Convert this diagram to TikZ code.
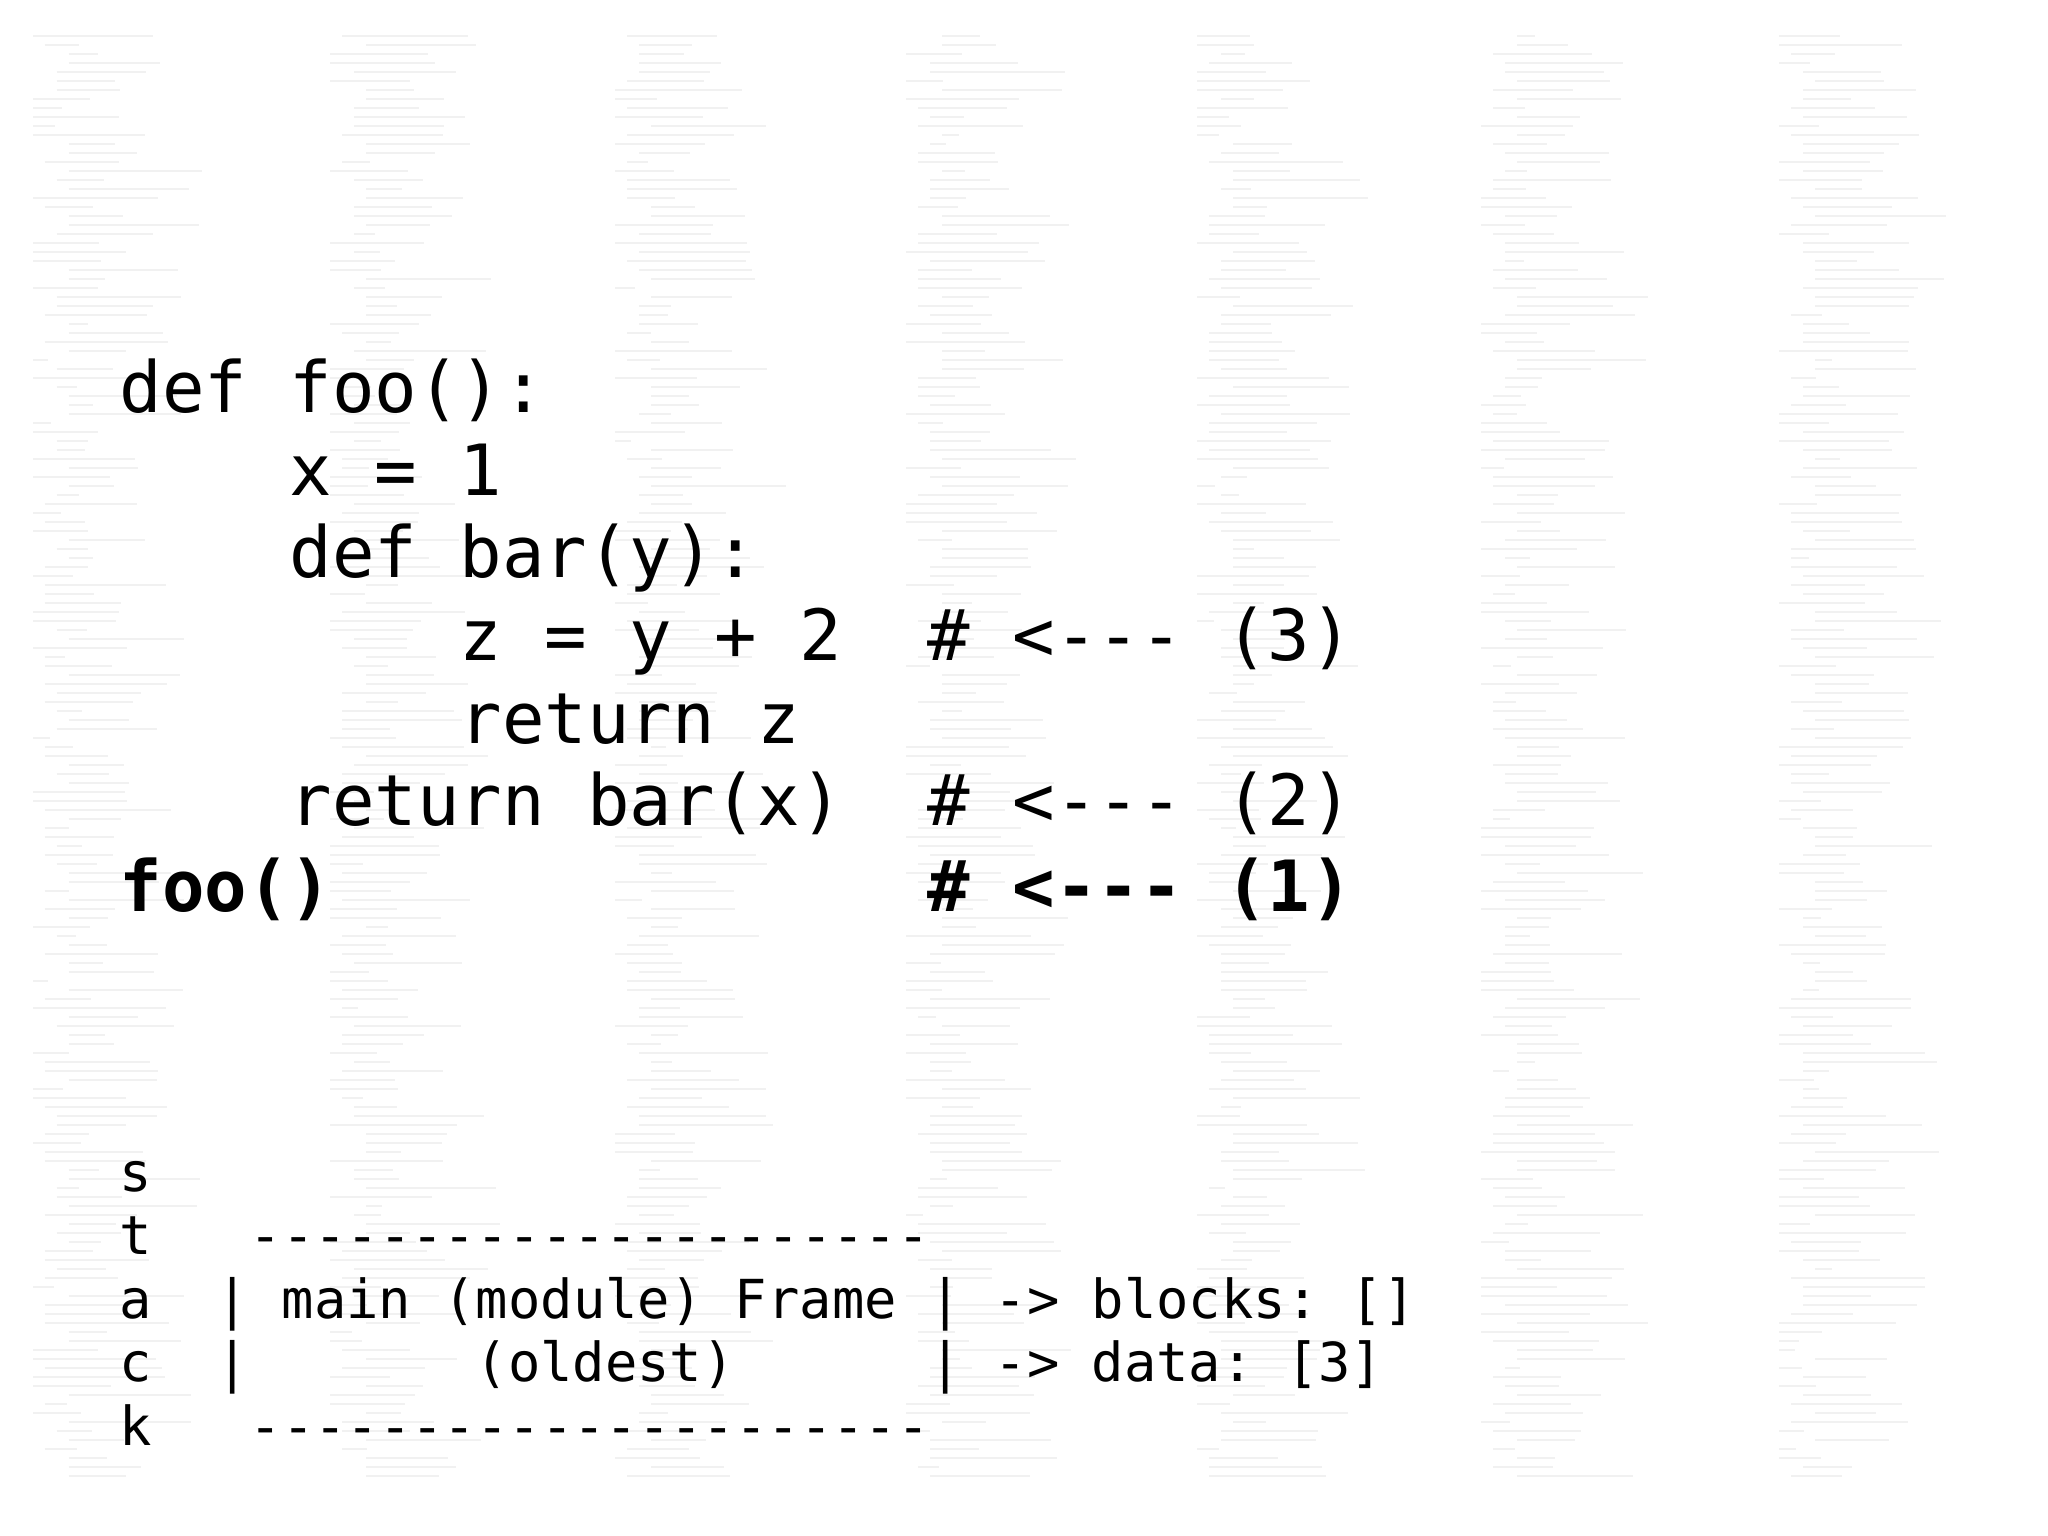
\documentclass[tikz,border=0pt]{standalone}
\usepackage{fontspec}
\setmonofont{DejaVu Sans Mono}
\tikzset{
    code/.style={
           anchor=base west,
           inner sep=0pt,
           font=\ttfamily\fontsize{20.1}{24}\selectfont,
           },
    stk/.style={
           anchor=base west,
           inner sep=0pt,
           font=\ttfamily\fontsize{15.3}{18}\selectfont,
           },
    noise/.style={
           gray!11, line width=0.8pt,
           },
}
\begin{document}
\begin{tikzpicture}
    \useasboundingbox (0,0) rectangle (20.48,15.36);
    \fill[white] (0,0) rectangle (20.48,15.36);
    % faint columns of code in the background
    \pgfmathsetseed{7}
    \foreach \c in {0.33,3.3,6.15,9.06,11.97,14.81,17.79} {
        \foreach \i in {0,...,160} {
            \pgfmathsetmacro\len{rnd*1.2+0.15}
            \pgfmathsetmacro\ind{int(rnd*4)*0.12}
            \draw[noise] (\c+\ind,15.0-\i*0.09) -- ++(\len,0);
        }
    }
    % code lines (char width 0.425cm, x0 = 1.19cm)
    \node[code] (l1) at (1.19,11.23) {def foo():};
    \node[code] (l2) at (2.89,10.40) {x = 1};
    \node[code] (l3) at (2.89,9.58) {def bar(y):};
    \node[code] (l4) at (4.59,8.75) {z = y + 2};
    \node[code] (c3) at (9.27,8.75) {\# <--- (3)};
    \node[code] (l5) at (4.59,7.92) {return z};
    \node[code] (l6) at (2.89,7.10) {return bar(x)};
    \node[code] (c2) at (9.27,7.10) {\# <--- (2)};
    \node[code, font=\ttfamily\bfseries\fontsize{20.1}{24}\selectfont] (l7) at (1.19,6.24) {foo()};
    \node[code, font=\ttfamily\bfseries\fontsize{20.1}{24}\selectfont] (c1) at (9.27,6.24) {\# <--- (1)};
    % stack (char width 0.324cm)
    \node[stk] (s) at (1.19,3.44) {s};
    \node[stk] (t) at (1.19,2.81) {t};
    \node[stk] (top) at (2.49,2.81) {---------------------};
    \node[stk] (a) at (1.19,2.17) {a};
    \node[stk] (bl) at (2.16,2.17) {|};
    \node[stk] (frame) at (2.81,2.17) {main (module) Frame};
    \node[stk] (br) at (9.29,2.17) {|};
    \node[stk] (blocks) at (9.94,2.17) {-> blocks: []};
    \node[stk] (c) at (1.19,1.54) {c};
    \node[stk] (cl) at (2.16,1.54) {|};
    \node[stk] (old) at (4.75,1.54) {(oldest)};
    \node[stk] (cr) at (9.29,1.54) {|};
    \node[stk] (data) at (9.94,1.54) {-> data: [3]};
    \node[stk] (k) at (1.19,0.90) {k};
    \node[stk] (bot) at (2.49,0.90) {---------------------};
\end{tikzpicture}
\end{document}
